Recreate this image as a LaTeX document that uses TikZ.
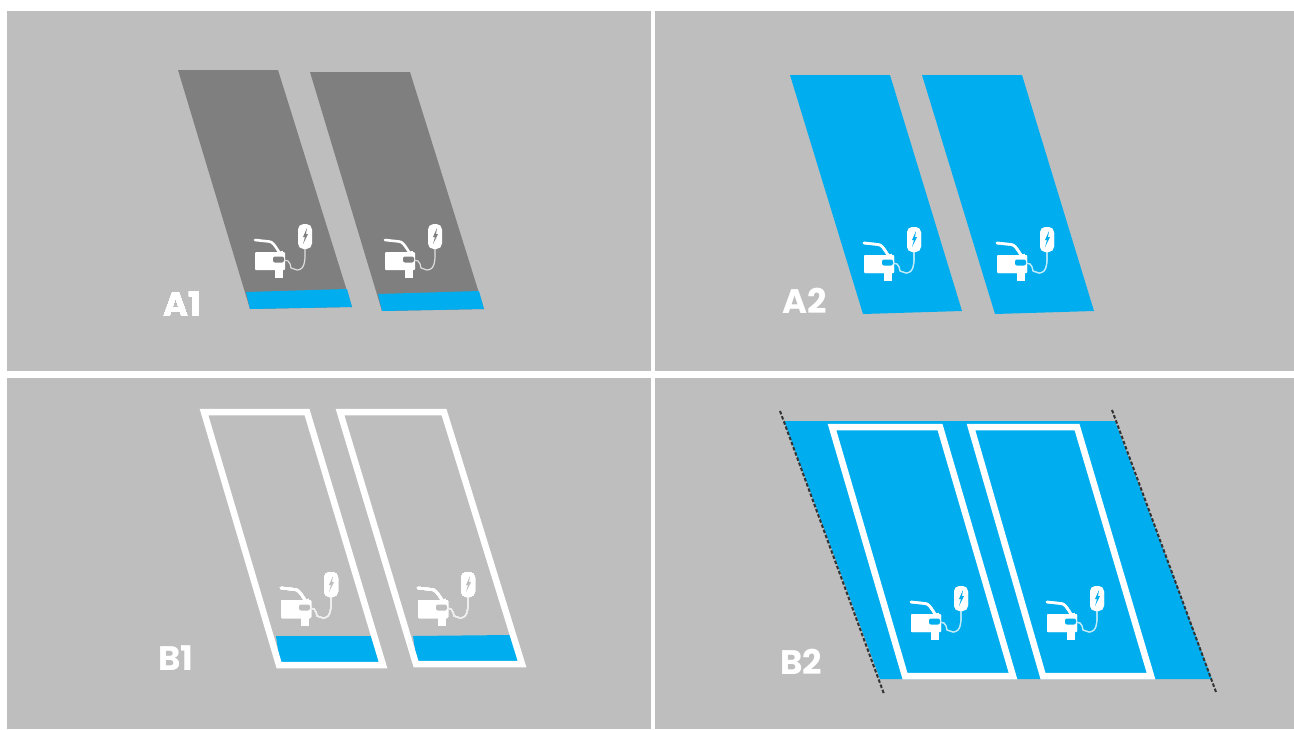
\documentclass[tikz,border=0pt]{standalone}
\usepackage{fontspec}
\setmainfont{Poppins}
\definecolor{panelgray}{RGB}{190,190,190}
\definecolor{slotgray}{RGB}{127,127,127}
\definecolor{bayblue}{RGB}{0,174,239}
% Biểu tượng xe và trụ sạc
\newcommand{\evicon}[3]{
	\begin{scope}[shift={(#1,#2)}]
		\fill[white,rounded corners=1pt] (0,12) rectangle (30,30);
		\fill[white] (20,28) rectangle (28,38);
		\draw[white,line width=2.6pt,line cap=round] (0,0)--(14,1.5) to[out=0,in=-110] (27,12);
		\fill[#3,rounded corners=2pt] (18,16.5) rectangle (29,22.5);
		\draw[white!75!#3,line width=1.2pt] (29,20)--(33,21) to[out=-30,in=110] (36,28) -- (42,30) to[out=0,in=-90] (50,8);
		\fill[white,rounded corners=5.5pt] (43,-16) rectangle (57,9);
		\fill[#3] (52,-12)--(48,-3)--(50,-3)--(48,4)--(53,-6)--(51,-6)--cycle;
	\end{scope}
}
\begin{document}
\begin{tikzpicture}[x=1pt,y=-1pt,line join=round,
	bay/.style={fill=bayblue},
	darkbay/.style={fill=slotgray},
	outline/.style={draw=white,line width=6.5pt,line join=miter},
	sepline/.style={draw=white,line width=#1},
	edgeline/.style={draw=black!80,line width=2pt,dash pattern=on 3.5pt off 2pt},
	tag/.style={text=white,font=\fontsize{34}{34}\selectfont\bfseries,inner sep=0pt}]
	\useasboundingbox (0,0) rectangle (1294,729);
	\fill[panelgray] (7,11) rectangle (1294,729);
	\draw[sepline=7pt] (7,374)--(1294,374);
	\draw[sepline=3.5pt] (653,11)--(653,729);
	% A1
	\foreach \x/\y in{0/0,132/2}{
		\fill[darkbay,shift={(\x,\y)}] (178,70)--(278,70)--(352,307)--(250,309)--cycle;
		\fill[bay,shift={(\x,\y)}] (246,292)--(347,289)--(352,307)--(250,309)--cycle;
	}
	% A2
	\foreach \x in{0,132} \fill[bay,shift={(\x,0)}] (790,75)--(890,75)--(962,311)--(863,314)--cycle;
	% B1
	\fill[bay] (276,636)--(372,636)--(382,664)--(280,664)--cycle;
	\fill[bay] (413,636)--(510,635)--(520,663)--(417,663)--cycle;
	\draw[outline] (204,412)--(307,412)--(383,665)--(279,665)--cycle;
	\draw[outline] (340,412)--(444,412)--(522,664)--(416,664)--cycle;
	% B2
	\fill[bay] (784,421)--(1115,421)--(1212,679)--(880,679)--cycle;
	\draw[edgeline] (780,411)--(884,694);
	\draw[edgeline] (1112,410)--(1216,692);
	\draw[outline] (832,427)--(940,427)--(1013,676)--(905,676)--cycle;
	\draw[outline] (971,427)--(1077,427)--(1151,676)--(1043,676)--cycle;
	% Biểu tượng
	\foreach \x/\y in{255/240,385/240}\evicon{\x}{\y}{slotgray}
	\foreach \x/\y in{864/243,997/243,911/602,1047/602}\evicon{\x}{\y}{bayblue}
	\foreach \x/\y in{281/588,418/588}\evicon{\x}{\y}{panelgray}
	\node[tag] (tagAone) at (182,304) {A1};
	\node[tag] (tagAtwo) at (805,301) {A2};
	\node[tag] (tagBone) at (176,658) {B1};
	\node[tag] (tagBtwo) at (801,662) {B2};
\end{tikzpicture}
\end{document}
